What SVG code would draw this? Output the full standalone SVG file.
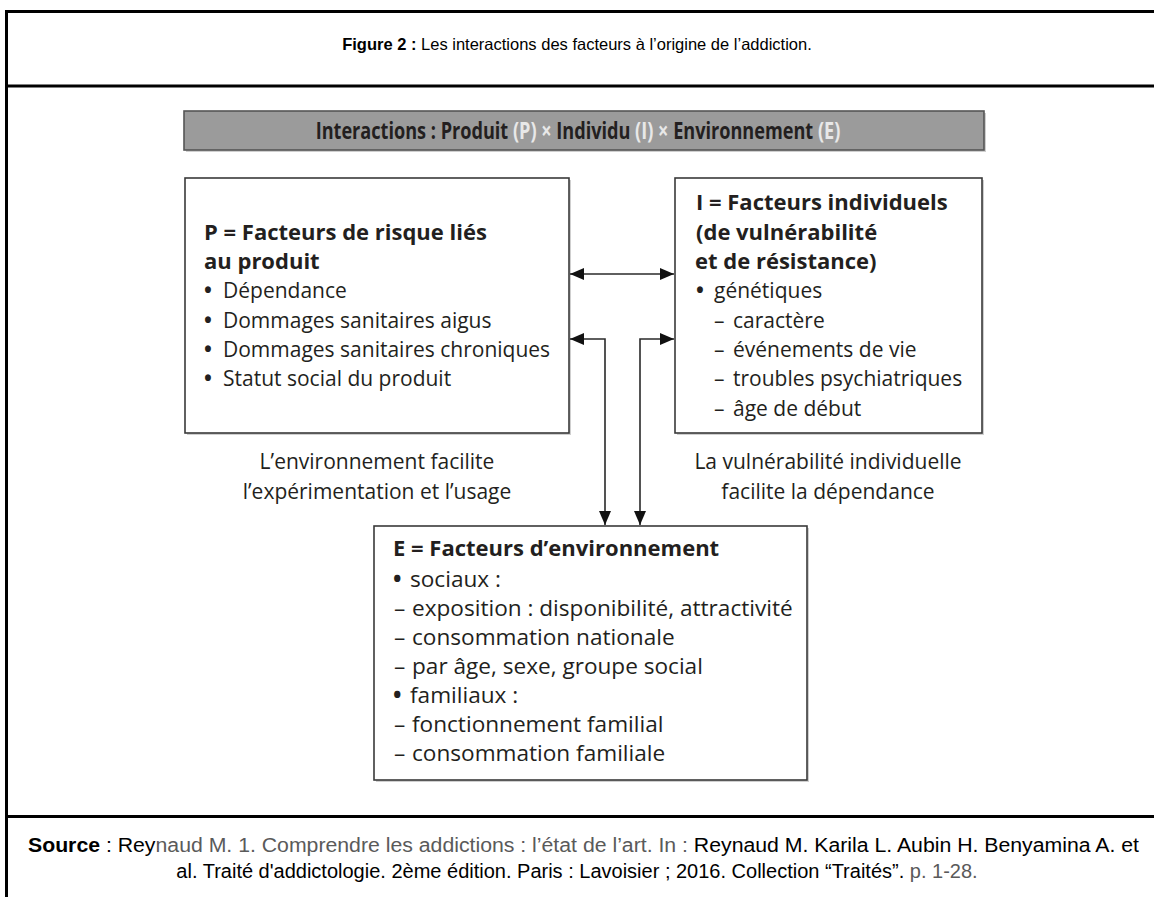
<svg xmlns="http://www.w3.org/2000/svg" width="1154" height="897" viewBox="0 0 1154 897">
<style>
.frame{stroke:#000;stroke-width:3;fill:none}
.box{fill:#fff;stroke:#3a3a3a;stroke-width:1.6}
.shadow{fill:#cfcfcf}
.h{font-family:"Open Sans","Noto Sans","DejaVu Sans",sans-serif;font-weight:700;font-size:22px;fill:#231f20}
.t{font-family:"Open Sans","Noto Sans","DejaVu Sans",sans-serif;font-size:21px;fill:#231f20}
.te{font-size:22.6px}
.b{font-weight:700}
.conn{stroke:#2a2a2a;stroke-width:1.6;fill:none}
.cap{font-family:"Liberation Sans",Arial,sans-serif;font-size:16.5px;fill:#000}
.src{font-size:20px}
.grey{fill:#5a5a5a}
.light{fill:#e8e8e8}
</style>
<defs>
<marker id="ah" viewBox="0 0 14 12" refX="14" refY="6" markerWidth="14" markerHeight="12" markerUnits="userSpaceOnUse" orient="auto-start-reverse">
<path d="M0,0 L14,6 L0,12 z" fill="#111"/>
</marker>
</defs>
<rect width="1154" height="897" fill="#fff"/>
<g id="frame">
<line class="frame" x1="5" y1="11.5" x2="1154" y2="11.5"/>
<line class="frame" x1="5" y1="86" x2="1154" y2="86"/>
<line class="frame" x1="5" y1="816.5" x2="1154" y2="816.5"/>
<line class="frame" x1="6.5" y1="10" x2="6.5" y2="897"/>
</g>
<g id="title">
<text class="cap" x="577" y="50" text-anchor="middle"><tspan font-weight="bold">Figure 2 :</tspan> Les interactions des facteurs à l’origine de l’addiction.</text>
</g>
<g id="header">
<rect x="186" y="113" width="800" height="39" class="shadow"/>
<rect x="184" y="111" width="800" height="39" fill="#9b9b9b" stroke="#555" stroke-width="1.6"/>
<text class="h" x="0" y="0" text-anchor="middle" transform="translate(578 138.5) scale(0.755 1)" style="font-size:24px">Interactions : Produit <tspan class="light">(P)</tspan> <tspan class="light">×</tspan> Individu <tspan class="light">(I)</tspan> <tspan class="light">×</tspan> Environnement <tspan class="light">(E)</tspan></text>
</g>
<g id="node-P">
<rect x="187" y="180" width="384" height="255" class="shadow"/>
<rect x="185" y="178" width="384" height="255" class="box"/>
<text class="h" x="204" y="239.5">P = Facteurs de risque liés</text>
<text class="h" x="204" y="268.8">au produit</text>
<text class="t" y="298"><tspan x="204" class="b">•</tspan><tspan x="223">Dépendance</tspan></text>
<text class="t" y="327.5"><tspan x="204" class="b">•</tspan><tspan x="223">Dommages sanitaires aigus</tspan></text>
<text class="t" y="357"><tspan x="204" class="b">•</tspan><tspan x="223">Dommages sanitaires chroniques</tspan></text>
<text class="t" y="386"><tspan x="204" class="b">•</tspan><tspan x="223">Statut social du produit</tspan></text>
</g>
<g id="node-I">
<rect x="677" y="180" width="307" height="255" class="shadow"/>
<rect x="675" y="178" width="307" height="255" class="box"/>
<text class="h" x="696" y="210">I = Facteurs individuels</text>
<text class="h" x="696" y="239.5">(de vulnérabilité</text>
<text class="h" x="695" y="268.8">et de résistance)</text>
<text class="t" y="298"><tspan x="696" class="b">•</tspan><tspan x="714">génétiques</tspan></text>
<text class="t" y="327.5"><tspan x="714">–</tspan><tspan x="733">caractère</tspan></text>
<text class="t" y="357"><tspan x="714">–</tspan><tspan x="733">événements de vie</tspan></text>
<text class="t" y="386"><tspan x="714">–</tspan><tspan x="733">troubles psychiatriques</tspan></text>
<text class="t" y="415.5"><tspan x="714">–</tspan><tspan x="733">âge de début</tspan></text>
</g>
<g id="node-E">
<rect x="376" y="528" width="433" height="254" class="shadow"/>
<rect x="374" y="526" width="433" height="254" class="box"/>
<text class="h" x="393" y="556">E = Facteurs d’environnement</text>
<text class="t te" y="587"><tspan x="393" class="b">•</tspan><tspan x="410">sociaux :</tspan></text>
<text class="t te" y="616"><tspan x="394">–</tspan><tspan x="412">exposition : disponibilité, attractivité</tspan></text>
<text class="t te" y="645"><tspan x="394">–</tspan><tspan x="412">consommation nationale</tspan></text>
<text class="t te" y="674"><tspan x="394">–</tspan><tspan x="412">par âge, sexe, groupe social</tspan></text>
<text class="t te" y="703"><tspan x="393" class="b">•</tspan><tspan x="410">familiaux :</tspan></text>
<text class="t te" y="732"><tspan x="394">–</tspan><tspan x="412">fonctionnement familial</tspan></text>
<text class="t te" y="761"><tspan x="394">–</tspan><tspan x="412">consommation familiale</tspan></text>
</g>
<g id="connectors">
<line class="conn" x1="570" y1="274" x2="674" y2="274" marker-start="url(#ah)" marker-end="url(#ah)"/>
<path class="conn" d="M570,339 H605 V525" marker-start="url(#ah)" marker-end="url(#ah)"/>
<path class="conn" d="M640,525 V339 H674" marker-start="url(#ah)" marker-end="url(#ah)"/>
</g>
<g id="labels">
<text class="t" x="377" y="469" text-anchor="middle">L’environnement facilite</text>
<text class="t" x="377" y="499" text-anchor="middle">l’expérimentation et l’usage</text>
<text class="t" x="828" y="469" text-anchor="middle">La vulnérabilité individuelle</text>
<text class="t" x="828" y="499" text-anchor="middle">facilite la dépendance</text>
</g>
<g id="source">
<text class="cap src" x="28" y="852" textLength="1111" lengthAdjust="spacingAndGlyphs"><tspan font-weight="bold">Source</tspan> : Rey<tspan class="grey">naud M. 1. Comprendre les addictions : l’état de l’art. In :</tspan> Reynaud M. Karila L. Aubin H. Benyamina A. et</text>
<text class="cap src" x="577" y="878" text-anchor="middle">al. Traité d'addictologie. 2ème édition. Paris : Lavoisier ; 2016. Collection “Traités”. <tspan class="grey"> p. 1-28.</tspan></text>
</g>
</svg>
